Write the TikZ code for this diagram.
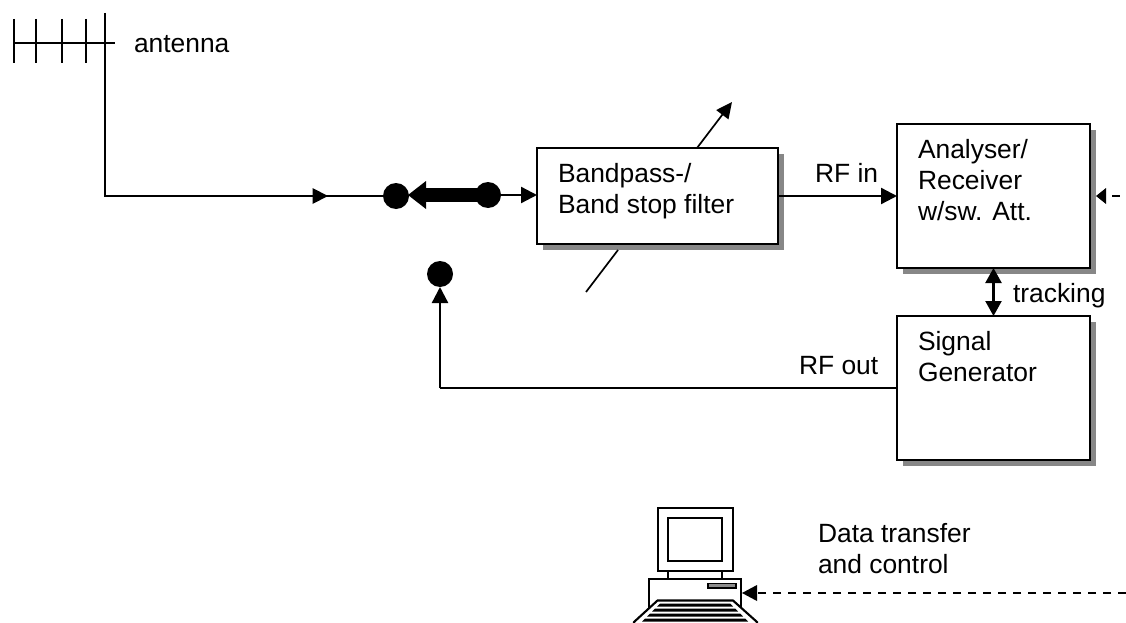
\documentclass[tikz,border=0pt]{standalone}
\usepackage{fontspec}
\setmainfont{Liberation Sans}
\usetikzlibrary{arrows.meta,calc}
\tikzset{
  x=1pt,y=-1pt,
  box/.style={draw=black,line width=2.2pt,fill=white,inner sep=0pt,outer sep=0pt},
  shadowrect/.style={fill=black!47,draw=none},
  label/.style={anchor=base west,inner sep=0pt,outer sep=0pt,font=\fontsize{26.4}{26.4}\selectfont},
  wire/.style={draw=black,line width=2.3pt},
  thin wire/.style={draw=black,line width=1.7pt},
  tipped/.style={wire,-{Triangle[length=16pt,width=16pt]},shorten >=0pt},
  dot/.style={circle,fill=black,draw=none,minimum size=26pt,inner sep=0pt,outer sep=0pt},
  part/.style={draw=black,line width=2.1pt,fill=white,line join=miter},
}
\begin{document}
\begin{tikzpicture}
\useasboundingbox (0,0) rectangle (1126,623);
% shadows
\fill[shadowrect] (543,154) rectangle (784,250);
\fill[shadowrect] (903,130) rectangle (1096,274);
\fill[shadowrect] (903,322) rectangle (1096,466);
% boxes
\node[box,minimum width=241pt,minimum height=96pt] (filter) at (657.5,196) {};
\node[box,minimum width=193pt,minimum height=144pt] (ana) at (993.5,196) {};
\node[box,minimum width=193pt,minimum height=144pt] (gen) at (993.5,388) {};
% dots
\node[dot] (d1) at (396,196) {};
\node[dot] (d2) at (488,195) {};
\node[dot] (d3) at (440,274) {};
% coordinates
\coordinate (antT) at (105,13);
\coordinate (antC) at (105,196);
\coordinate (mid) at (329,196);
\coordinate (antL) at (14,43);
\coordinate (antR) at (115,43);
\coordinate (tiltA) at (586,292);
\coordinate (tiltB) at (618,250);
\coordinate (tiltC) at (697,148);
\coordinate (tiltD) at (732,102);
\coordinate (corner) at (440,388);
\coordinate (ctlEnd) at (1126,593);
\coordinate (extEnd) at (1120,196);
% antenna
\draw[thin wire] (antL) -- (antR);
\foreach \xx in {14,36,62,86} \draw[thin wire] (\xx,19) -- (\xx,63);
\draw[thin wire] (antT) -- (antC);
\draw[wire,line cap=rect] (antC) -- (mid);
\fill (312.5,188) -- (328,196) -- (312.5,204) -- cycle;
\draw[wire] (mid) -- (d1);
% thick switch
\fill (d2.center) ++(0,-7) rectangle (426,202);
\fill (426,181) -- (408,195) -- (426,209) -- cycle;
% to filter
\draw[tipped] (d2) -- (filter.west |- d2);
% filter tilt arrow
\draw[thin wire] (tiltA) -- (tiltB);
\draw[thin wire,-{Triangle[length=16pt,width=15pt]}] (tiltC) -- (tiltD);
% RF in
\draw[tipped] (filter.east) -- (ana.west);
% tracking
\draw[wire,{Triangle[length=15pt,width=16pt]}-{Triangle[length=15pt,width=16pt]}] (ana.south) -- (gen.north);
% RF out
\draw[wire] (gen.west) -- (corner);
\draw[tipped] (corner) -- (d3);
% analyser external input
\fill (1096,196) -- (1106,188) -- (1106,204) -- cycle;
\draw[wire] (1112,196) -- (extEnd);
% computer
\node[part,minimum width=75pt,minimum height=63pt,inner sep=0pt,outer sep=0pt] (mon) at (695.5,539.5) {};
\node[part,minimum width=54pt,minimum height=43pt,inner sep=0pt,outer sep=0pt] (scr) at (695,539.5) {};
\draw[part] (668,571) -- (668,579) (722,571) -- (722,579);
\node[part,minimum width=92pt,minimum height=41pt,inner sep=0pt,outer sep=0pt] (pc) at (695,599.5) {};
\draw[line width=1.6pt,fill=black!45] (708,583.5) rectangle (736,588);
\draw[part] (657.5,600.5) -- (733,600.5) -- (757,622) -- (757,625) -- (634,625) -- (634,622) -- cycle;
\fill (660,603.5) -- (730,603.5) -- (733,606.5) -- (657,606.5) -- cycle;
\fill (655,608.5) -- (735,608.5) -- (738,611.5) -- (652,611.5) -- cycle;
\fill (650,613.5) -- (740,613.5) -- (743,616.5) -- (647,616.5) -- cycle;
\fill (645,618.5) -- (745,618.5) -- (748,621.5) -- (642,621.5) -- cycle;
% control
\draw[wire,dashed,dash pattern=on 8.5pt off 6.5pt] (ctlEnd) -- (757,593);
\fill (742,593) -- (757,585) -- (757,601) -- cycle;
% labels
\node[label] (t1) at (134,53) {antenna};
\node[label] (t2) at (558,182) {Bandpass-/};
\node[label] (t3) at (558,213) {Band stop filter};
\node[label] (t4) at (815,182) {RF in};
\node[label] (t5) at (918,158) {Analyser/};
\node[label] (t6) at (918,189) {Receiver};
\node[label] (t7) at (918,220) {w/sw. Att.};
\node[label] (t8) at (1013,302) {tracking};
\node[label] (t9) at (918,350) {Signal};
\node[label] (t10) at (918,381) {Generator};
\node[label] (t11) at (799,374) {RF out};
\node[label] (t12) at (818,542) {Data transfer};
\node[label] (t13) at (818,573) {and control};
\end{tikzpicture}
\end{document}
